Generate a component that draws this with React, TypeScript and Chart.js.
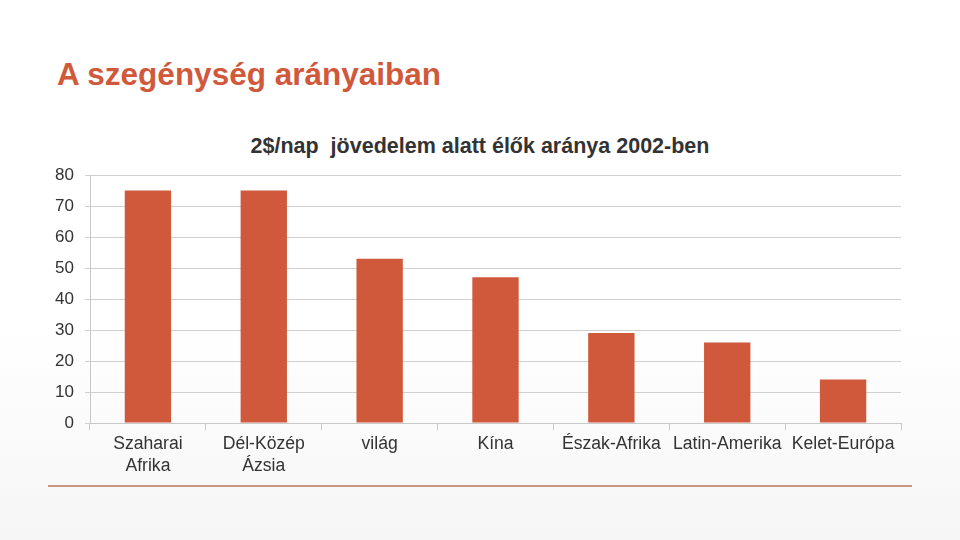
import React, { useEffect, useRef } from "react";
import { Chart, registerables } from "chart.js";

Chart.register(...registerables);

const categories: (string | string[])[] = [
  ["Szaharai", "Afrika"],
  ["Dél-Közép", "Ázsia"],
  "világ",
  "Kína",
  "Észak-Afrika",
  "Latin-Amerika",
  "Kelet-Európa",
];
const values = [75, 75, 53, 47, 29, 26, 14];
const yTicks = [0, 10, 20, 30, 40, 50, 60, 70, 80];

const slideTitle = "A szegénység arányaiban";
const chartTitle = "2$/nap  jövedelem alatt élők aránya 2002-ben";

const ACCENT = "#D0593C";
const TEXT = "#333333";
const FONT = "'Liberation Sans', Arial, Helvetica, sans-serif";

export default function App() {
  const ref = useRef<HTMLCanvasElement | null>(null);

  useEffect(() => {
    if (!ref.current) return;
    const chart = new Chart(ref.current, {
      type: "bar",
      data: {
        labels: categories,
        datasets: [
          {
            data: values,
            backgroundColor: ACCENT,
            borderWidth: 0,
            barPercentage: 0.4,
            categoryPercentage: 1,
          },
        ],
      },
      options: {
        responsive: false,
        animation: false,
        devicePixelRatio: 1,
        layout: { padding: { left: 40, right: 59, top: 175, bottom: 57 } },
        plugins: {
          legend: { display: false },
          tooltip: { enabled: false },
          title: { display: false },
        },
        scales: {
          x: {
            afterFit: (s: any) => {
              s.height = 60;
            },
            grid: {
              drawOnChartArea: false,
              drawTicks: true,
              tickLength: 7,
              color: "#c8c8c8",
              offset: true,
            },
            border: { color: "#c8c8c8", width: 1 },
            ticks: {
              autoSkip: false,
              maxRotation: 0,
              minRotation: 0,
              padding: 3,
              color: TEXT,
              font: { family: FONT, size: 17.6, lineHeight: 1.26 },
            },
          },
          y: {
            min: 0,
            max: 80,
            afterFit: (s: any) => {
              s.width = 50;
            },
            afterBuildTicks: (s: any) => {
              s.ticks = yTicks.map((v) => ({ value: v }));
            },
            grid: {
              color: "#d0d0d0",
              tickLength: 5,
              drawTicks: true,
            },
            border: { color: "#c8c8c8", width: 1 },
            ticks: {
              padding: 11,
              color: TEXT,
              font: { family: FONT, size: 17 },
            },
          },
        },
      },
    });
    return () => chart.destroy();
  }, []);

  return (
    <div
      style={{
        position: "fixed",
        left: 0,
        top: 0,
        width: 960,
        height: 540,
        background: "linear-gradient(#ffffff, #ffffff 60%, #f6f6f6)",
        overflow: "hidden",
        fontFamily: FONT,
      }}
    >
      <div
        style={{
          position: "absolute",
          left: 57,
          top: 54,
          fontSize: 31.5,
          fontWeight: "bold",
          color: ACCENT,
          whiteSpace: "nowrap",
          lineHeight: "40px",
        }}
      >
        {slideTitle}
      </div>
      <div
        style={{
          position: "absolute",
          left: 0,
          width: 960,
          top: 133,
          textAlign: "center",
          fontSize: 21.5,
          fontWeight: "bold",
          color: TEXT,
          whiteSpace: "pre",
          lineHeight: "26px",
        }}
      >
        {chartTitle}
      </div>
      <canvas
        ref={ref}
        width={960}
        height={540}
        style={{ position: "absolute", left: 0, top: 0, width: 960, height: 540 }}
      />
      <div
        style={{
          position: "absolute",
          left: 48,
          width: 864,
          top: 485,
          height: 2,
          background: "#C99585",
        }}
      />
    </div>
  );
}
